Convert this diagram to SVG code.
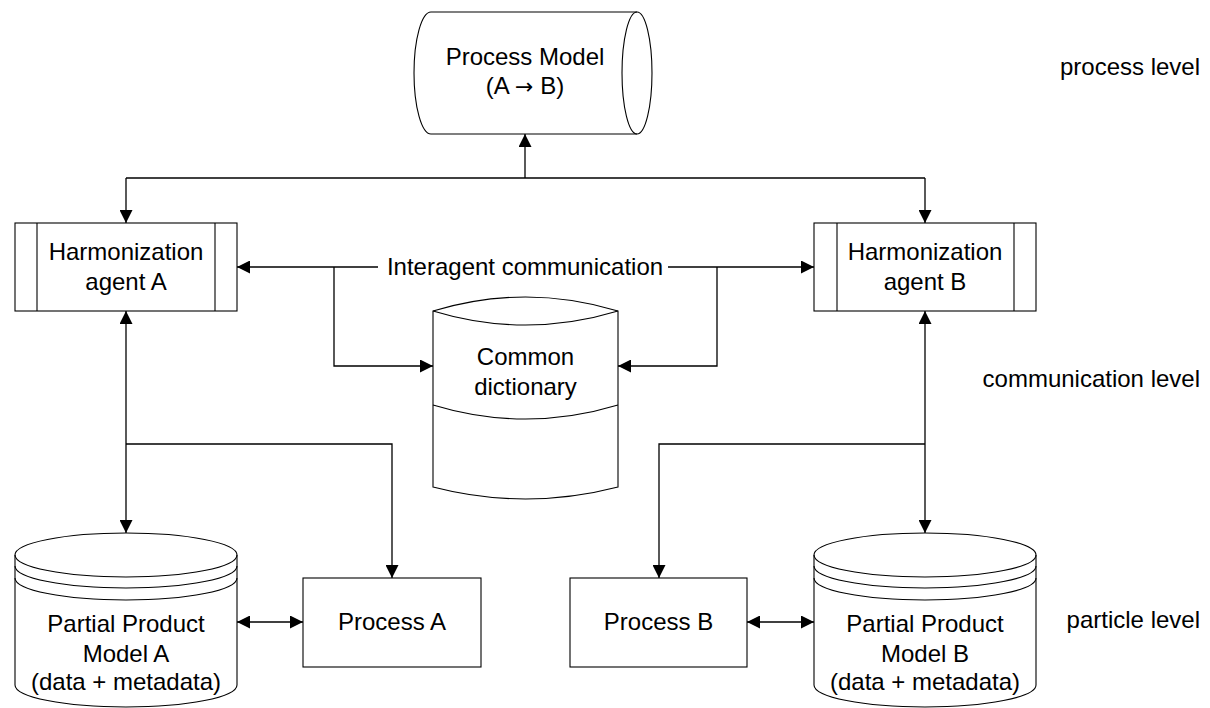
<svg xmlns="http://www.w3.org/2000/svg" width="1210" height="708" viewBox="0 0 1210 708">
  <style>
    .shape { fill: #fff; stroke: #000; stroke-width: 1.1; }
    .line { fill: none; stroke: #000; stroke-width: 1.1; }
    .conn { fill: none; stroke: #000; stroke-width: 1.3; }
    .arr { marker-end: url(#head); }
    .bi { marker-start: url(#head); marker-end: url(#head); }
    text { font-family: "Liberation Sans", Arial, sans-serif; font-size: 24px; fill: #000; }
    .c { text-anchor: middle; }
    .r { text-anchor: end; }
    .sym { font-family: "DejaVu Sans", sans-serif; font-size: 22px; }
  </style>
  <defs>
    <marker id="head" markerUnits="userSpaceOnUse" markerWidth="13" markerHeight="13" refX="13" refY="6.5" orient="auto-start-reverse">
      <path d="M0,0 L13,6.5 L0,13 z" fill="#000"/>
    </marker>
  </defs>

  <rect width="1210" height="708" fill="#fff"/>

  <!-- connectors -->
  <g id="connectors">
    <!-- process model link -->
    <path class="conn arr" d="M525,178 L525,134"/>
    <path class="conn" d="M126,178 L925,178"/>
    <path class="conn arr" d="M126,178 L126,223"/>
    <path class="conn arr" d="M925,178 L925,223"/>
    <!-- interagent communication -->
    <path class="conn arr" d="M378,267 L237,267"/>
    <path class="conn arr" d="M668,267 L814,267"/>
    <path class="conn arr" d="M334,267 L334,366 L433,366"/>
    <path class="conn arr" d="M717,267 L717,366 L618,366"/>
    <!-- agent A to particle level -->
    <path class="conn bi" d="M126,311 L126,533"/>
    <path class="conn arr" d="M126,444 L392,444 L392,578"/>
    <path class="conn bi" d="M237,622 L303,622"/>
    <!-- agent B to particle level -->
    <path class="conn bi" d="M925,311 L925,533"/>
    <path class="conn arr" d="M925,444 L659,444 L659,578"/>
    <path class="conn bi" d="M747,622 L814,622"/>
  </g>
  <text class="c" x="525" y="275">Interagent communication</text>

  <!-- process model (horizontal drum) -->
  <g id="process-model">
    <path class="shape" d="M431,12 L637,12 A15,61 0 0 1 637,134 L431,134 A17,61 0 0 1 431,12 z"/>
    <path class="line" d="M637,12 A15,61 0 0 0 637,134"/>
    <text class="c" x="525" y="65">Process Model</text>
    <text class="c" x="525" y="94">(A <tspan class="sym">→</tspan> B)</text>
  </g>

  <!-- harmonization agents -->
  <g id="agent-a">
    <rect class="shape" x="15" y="223" width="222" height="88"/>
    <path class="line" d="M37,223 V311 M215,223 V311"/>
    <text class="c" x="126" y="260">Harmonization</text>
    <text class="c" x="126" y="290">agent A</text>
  </g>
  <g id="agent-b">
    <rect class="shape" x="814" y="223" width="222" height="88"/>
    <path class="line" d="M837,223 V311 M1014,223 V311"/>
    <text class="c" x="925" y="260">Harmonization</text>
    <text class="c" x="925" y="290">agent B</text>
  </g>

  <!-- common dictionary -->
  <g id="common-dictionary">
    <path class="shape" d="M433,311 Q525.5,283 618,311 L618,487 Q525.5,511 433,487 z"/>
    <path class="line" d="M433,311 Q525.5,339 618,311"/>
    <path class="line" d="M433,405 Q525.5,433 618,405"/>
    <text class="c" x="525.5" y="365">Common</text>
    <text class="c" x="525.5" y="395">dictionary</text>
  </g>

  <!-- partial product models -->
  <g id="ppm-a">
    <path class="shape" d="M15,555 A111,22 0 0 1 237,555 L237,685 A111,22 0 0 1 15,685 z"/>
    <path class="line" d="M15,555 A111,22 0 0 0 237,555 M15,566 A111,22 0 0 0 237,566 M15,578 A111,22 0 0 0 237,578"/>
    <text class="c" x="126" y="632">Partial Product</text>
    <text class="c" x="126" y="662">Model A</text>
    <text class="c" x="126" y="690">(data + metadata)</text>
  </g>
  <g id="ppm-b">
    <path class="shape" d="M814,555 A111,22 0 0 1 1036,555 L1036,685 A111,22 0 0 1 814,685 z"/>
    <path class="line" d="M814,555 A111,22 0 0 0 1036,555 M814,566 A111,22 0 0 0 1036,566 M814,578 A111,22 0 0 0 1036,578"/>
    <text class="c" x="925" y="632">Partial Product</text>
    <text class="c" x="925" y="662">Model B</text>
    <text class="c" x="925" y="690">(data + metadata)</text>
  </g>

  <!-- processes -->
  <g id="process-a">
    <rect class="shape" x="303" y="578" width="178" height="89"/>
    <text class="c" x="392" y="630">Process A</text>
  </g>
  <g id="process-b">
    <rect class="shape" x="570" y="578" width="177" height="89"/>
    <text class="c" x="658.5" y="630">Process B</text>
  </g>

  <!-- level labels -->
  <g id="levels">
    <text class="r" x="1200" y="75">process level</text>
    <text class="r" x="1200" y="387">communication level</text>
    <text class="r" x="1200" y="628">particle level</text>
  </g>
</svg>
